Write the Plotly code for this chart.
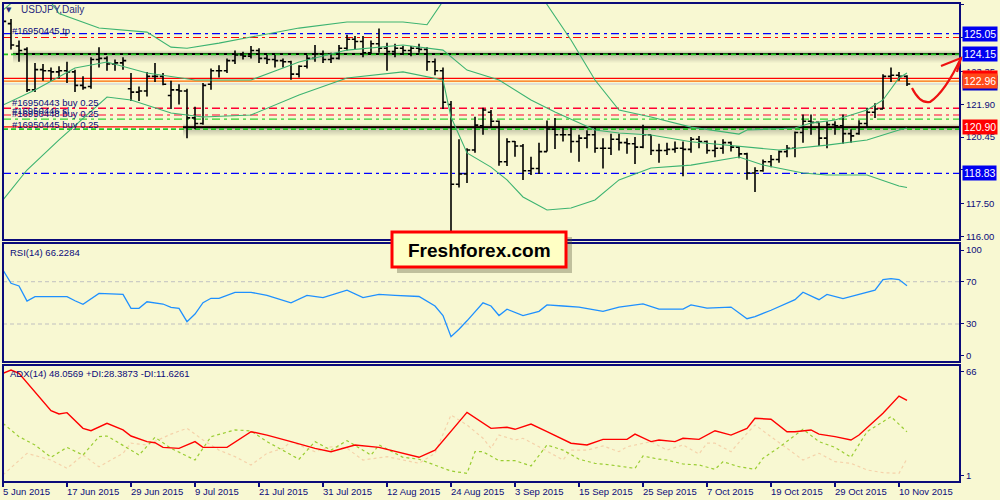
import plotly.graph_objects as go
import pandas as pd

# ---------------- data ----------------
dates = pd.bdate_range("2015-06-05", "2015-11-11")   # 114 daily bars
tick_labels = ["5 Jun 2015", "17 Jun 2015", "29 Jun 2015", "9 Jul 2015", "21 Jul 2015",
               "31 Jul 2015", "12 Aug 2015", "24 Aug 2015", "3 Sep 2015", "15 Sep 2015",
               "25 Sep 2015", "7 Oct 2015", "19 Oct 2015", "29 Oct 2015", "10 Nov 2015"]

opens = [124.55, 125.50, 124.50, 124.35, 122.55, 123.45, 123.40, 123.35, 123.40, 123.35,
         122.75, 122.70, 123.90, 123.95, 123.70, 123.75, 122.60, 122.45, 122.50, 123.15,
         123.15, 122.30, 122.55, 122.50, 121.30, 121.05, 122.80, 123.40, 123.40, 123.85,
         124.10, 124.05, 124.30, 123.95, 123.90, 123.85, 123.80, 123.25, 123.60, 123.95,
         124.15, 123.90, 123.95, 124.40, 124.80, 124.70, 124.20, 124.60, 124.40, 124.25,
         124.40, 124.30, 124.40, 124.35, 123.80, 123.40, 121.90, 118.35, 118.80, 119.87,
         120.95, 121.55, 121.15, 119.35, 120.25, 120.05, 118.95, 119.05, 119.80, 120.80,
         120.55, 120.55, 120.25, 120.40, 120.55, 119.95, 119.95, 120.35, 120.20, 120.15,
         120.00, 120.55, 119.85, 119.85, 119.90, 119.95, 119.90, 120.35, 120.25, 119.85,
         119.95, 120.20, 120.00, 119.70, 118.85, 118.95, 119.35, 119.45, 119.80, 119.95,
         120.65, 121.15, 121.10, 120.40, 121.00, 120.95, 120.60, 120.60, 121.05, 121.55,
         121.70, 123.15, 123.20, 123.15]
highs = [125.86, 125.70, 124.75, 124.45, 123.75, 123.70, 123.55, 123.60, 123.80, 123.45,
         123.15, 124.00, 124.45, 124.05, 123.90, 124.00, 123.30, 122.70, 123.35, 123.75,
         123.30, 122.95, 122.80, 122.60, 121.80, 122.85, 123.50, 123.65, 123.95, 124.30,
         124.25, 124.50, 124.40, 124.10, 124.10, 123.95, 123.85, 123.65, 124.10, 124.55,
         124.30, 124.20, 124.55, 125.00, 124.95, 124.95, 124.75, 125.28, 124.65, 124.60,
         124.50, 124.50, 124.60, 124.45, 123.95, 123.55, 122.05, 120.35, 119.95, 121.35,
         121.75, 121.65, 121.18, 120.40, 120.27, 120.14, 119.57, 120.20, 121.18, 121.30,
         120.90, 120.85, 120.55, 120.75, 120.90, 120.40, 120.60, 120.60, 120.40, 120.45,
         121.00, 120.55, 120.15, 120.20, 120.25, 120.25, 120.45, 120.50, 120.30, 120.30,
         120.35, 120.25, 120.05, 119.75, 119.10, 119.45, 119.65, 119.85, 120.10, 120.70,
         121.45, 121.45, 121.10, 121.15, 121.15, 121.45, 120.80, 121.20, 121.75, 121.95,
         123.25, 123.55, 123.35, 123.20]
lows = [124.25, 124.35, 123.80, 122.45, 122.45, 122.95, 122.95, 123.05, 122.85, 122.45,
        122.55, 122.60, 123.55, 123.40, 123.40, 123.45, 122.05, 122.05, 122.25, 122.90,
        122.75, 121.70, 121.90, 120.40, 120.80, 121.00, 122.55, 123.10, 123.30, 123.70,
        123.90, 123.95, 123.75, 123.70, 123.55, 123.55, 123.00, 123.10, 123.50, 123.80,
        123.75, 123.75, 123.90, 124.30, 124.35, 124.00, 124.15, 124.20, 123.40, 124.00,
        124.10, 124.05, 124.20, 123.40, 123.20, 121.70, 116.15, 118.20, 118.40, 119.75,
        120.55, 120.85, 119.17, 119.16, 119.57, 118.54, 118.76, 118.80, 119.80, 119.92,
        120.25, 119.75, 119.35, 119.95, 119.75, 119.05, 119.65, 119.85, 119.70, 119.25,
        119.95, 119.65, 119.30, 119.65, 119.75, 118.70, 119.75, 119.95, 119.70, 119.55,
        119.70, 119.80, 119.50, 118.55, 118.00, 118.90, 119.10, 119.30, 119.55, 119.55,
        120.20, 120.55, 120.05, 119.95, 120.55, 120.15, 120.20, 120.55, 120.90, 121.30,
        121.70, 122.90, 122.95, 122.72]
closes = [125.60, 124.55, 124.30, 122.55, 123.45, 123.40, 123.35, 123.40, 123.35, 122.75,
          122.65, 123.90, 123.95, 123.70, 123.75, 123.85, 122.45, 122.50, 123.15, 123.15,
          122.80, 122.55, 122.50, 121.30, 121.05, 122.75, 123.40, 123.40, 123.85, 124.10,
          124.05, 124.30, 123.95, 123.90, 123.85, 123.80, 123.25, 123.60, 123.95, 124.15,
          123.90, 123.95, 124.40, 124.80, 124.70, 124.20, 124.60, 124.40, 124.25, 124.40,
          124.30, 124.40, 124.35, 123.80, 123.40, 122.00, 118.35, 118.80, 119.87, 120.98,
          121.65, 121.15, 119.35, 120.24, 120.05, 118.95, 119.05, 119.80, 120.81, 120.55,
          120.55, 120.25, 120.40, 120.55, 119.95, 119.95, 120.35, 120.20, 120.15, 120.00,
          120.55, 119.85, 119.85, 119.90, 119.95, 119.90, 120.35, 120.25, 119.85, 119.95,
          120.20, 120.00, 119.70, 118.85, 118.95, 119.35, 119.45, 119.80, 119.95, 120.65,
          121.15, 121.10, 120.40, 121.00, 120.95, 120.60, 120.50, 121.05, 121.55, 121.70,
          123.15, 123.20, 123.15, 122.81]

# Bollinger bands (bar index, price)
bb_up_idx = [0, 2, 4, 6, 7, 12, 18, 21, 23, 27, 31, 37, 43, 50, 53, 55, 58, 65, 68, 71,
             74, 76, 77, 81, 86, 92, 93, 99, 101, 104, 108, 110, 112, 113]
bb_up = [126.10, 126.70, 127.20, 126.45, 125.95, 125.30, 125.12, 124.45, 124.40, 124.63,
         124.90, 125.30, 125.57, 125.57, 125.45, 126.50, 128.50, 128.00, 126.35, 124.77,
         122.99, 122.10, 121.65, 121.34, 120.89, 120.58, 120.76, 120.85, 121.07, 121.21,
         121.65, 122.10, 123.08, 123.30]
bb_mid_idx = [0, 4, 9, 13, 18, 24, 31, 37, 43, 50, 55, 58, 62, 66, 69, 72, 74, 77, 81, 86,
              92, 97, 103, 108, 112, 113]
bb_mid = [121.87, 122.54, 123.52, 123.79, 123.30, 122.99, 122.99, 123.79, 124.32, 124.55,
          124.32, 123.43, 122.99, 122.10, 121.56, 121.07, 120.76, 120.63, 120.54, 120.24,
          120.02, 119.87, 120.09, 120.32, 120.76, 120.85]
bb_low_idx = [0, 3, 7, 13, 16, 21, 25, 31, 37, 43, 50, 55, 56, 58, 61, 63, 65, 68, 71, 74,
              77, 81, 86, 92, 95, 100, 103, 108, 112, 113]
bb_low = [117.65, 118.98, 120.32, 122.23, 122.10, 121.52, 121.34, 121.43, 122.32, 123.08,
          123.35, 122.99, 121.34, 119.74, 119.11, 118.54, 117.78, 117.20, 117.29, 117.65,
          118.54, 119.07, 119.20, 119.56, 119.20, 118.85, 118.76, 118.76, 118.27, 118.20]

# RSI(14)
rsi_idx = [0, 1, 2, 3, 4, 5, 6, 7, 8, 9, 10, 12, 14, 15, 16, 17, 18, 20, 21, 22, 23, 24,
           25, 26, 27, 29, 31, 33, 36, 38, 40, 43, 45, 47, 49, 52, 54, 55, 56, 57, 58, 59,
           60, 61, 62, 63, 65, 67, 68, 70, 72, 75, 77, 80, 82, 85, 86, 88, 91, 93, 94, 96,
           99, 100, 102, 103, 105, 107, 109, 110, 111, 112, 113]
rsi_val = [81, 68.5, 66, 51.7, 55.8, 55.8, 55.5, 55.2, 55.8, 52, 48.6, 59, 58.4, 58, 44.8,
           44.8, 51, 48.9, 45.8, 44.8, 32.2, 39.4, 50.1, 54.3, 54.3, 60, 60, 57, 50, 57, 55,
           62, 55, 58, 57, 56, 47, 38, 18, 25, 33, 42, 50, 47, 38, 44, 38, 42, 48, 47, 46,
           42, 46, 49, 44, 44, 48, 45, 46, 35, 37, 43, 53, 60, 53, 58, 54, 58, 62, 72, 73,
           72, 66.2284]

# ADX(14), +DI, -DI
adx_idx = [0, 1, 2, 4, 6, 7, 8, 10, 11, 13, 15, 16, 18, 19, 20, 22, 24, 25, 28, 31, 33, 36,
           39, 41, 44, 47, 50, 52, 54, 56, 58, 61, 63, 64, 66, 68, 71, 73, 75, 78, 79, 81,
           82, 84, 85, 87, 89, 91, 93, 94, 96, 98, 99, 101, 102, 104, 106, 107, 110, 112, 113]
adx_val = [65, 67, 65, 53.5, 41.6, 39.6, 40.4, 30.6, 29.1, 33.7, 29.6, 25.8, 22.3, 21.6,
           18.7, 18.1, 22.3, 18.7, 18.7, 28.5, 26.4, 22.3, 18.1, 16, 20.2, 18.7, 15, 12.5, 17,
           28.5, 40.6, 30.6, 31.3, 30, 33.3, 28.5, 21.3, 20.2, 23.7, 23.7, 27, 22.3, 23.3,
           22.3, 24.4, 23.7, 29.1, 26.4, 30.6, 36.9, 36.3, 28.5, 28.5, 29.6, 27, 25.4, 23.3,
           26.4, 40, 50.8, 48.0569]
pdi_idx = [0, 2, 4, 6, 8, 10, 12, 13, 16, 17, 19, 21, 24, 26, 29, 31, 33, 37, 39, 41, 43,
           46, 47, 50, 52, 55, 56, 58, 59, 60, 62, 64, 66, 68, 70, 72, 74, 76, 79, 80, 82,
           83, 85, 87, 89, 90, 92, 94, 95, 97, 100, 102, 104, 106, 108, 111, 113]
pdi_val = [33.7, 25.4, 20.2, 12.5, 18.7, 13.9, 25.4, 25.8, 17, 13.9, 25, 18.1, 10.8, 25.4,
           29.6, 29, 22.3, 11.3, 22.3, 17, 22.9, 13.9, 20.2, 12.5, 11.3, 5.6, 3.9, 2.5, 16,
           16, 10.4, 10.4, 7.1, 20.2, 17, 11.3, 8.75, 7.7, 5.6, 13.3, 11.3, 10.8, 8.3, 7.7, 5,
           9.75, 6.6, 5, 11.9, 18.7, 30, 22.3, 18.7, 12.5, 28.5, 37.9, 28.3873]
mdi_idx = [0, 3, 6, 8, 10, 12, 15, 16, 18, 21, 23, 25, 27, 29, 31, 33, 35, 36, 39, 41, 43,
           45, 48, 50, 52, 54, 56, 58, 60, 61, 62, 64, 65, 67, 70, 71, 73, 75, 77, 78, 81,
           83, 85, 87, 88, 89, 91, 93, 94, 96, 98, 100, 102, 104, 106, 108, 110, 112, 113]
mdi_val = [1.5, 15, 10.8, 5.6, 13.9, 6.6, 15, 21.3, 20.2, 27, 30.6, 23.3, 17, 12.9, 7.7, 15,
           18.1, 22.3, 16, 19.1, 18.1, 10.8, 12.9, 10.8, 8.75, 15, 38.9, 32.7, 24.4, 18.1,
           26.4, 23.3, 24.4, 19.1, 10.8, 17, 17, 19.6, 16, 19.1, 22.3, 17, 20.2, 14.6, 21.3,
           21.3, 16, 27.5, 32.7, 25.4, 18.1, 10.8, 15, 9.75, 8.75, 4.6, 2.9, 2.5, 11.6261]

# price-axis labels
price_ticks = [126.35, 124.90, 123.35, 121.90, 120.45, 119.00, 117.50, 116.00]
rsi_ticks = [0, 30, 70, 100]
adx_ticks = [1, 66]

# ---------------- layout helpers (pixel -> paper) ----------------
L, R, T, B = 3, 960, 3, 482
def pxx(x):
    return (x - L) / (R - L)
def pyy(y):
    return (B - y) / (B - T)

NAVY = "#0b0b7a"
BG = "#f8f8d2"
FONT = "Liberation Sans"
n = len(closes)
xs = list(range(n))

fig = go.Figure()
fig.add_trace(go.Ohlc(x=xs, open=opens, high=highs, low=lows, close=closes,
                      increasing=dict(line=dict(color="black", width=1.6)),
                      decreasing=dict(line=dict(color="black", width=1.6)),
                      tickwidth=0.4, hoverinfo="skip", showlegend=False,
                      xaxis="x", yaxis="y"))
for ix, vals in [(bb_up_idx, bb_up), (bb_mid_idx, bb_mid), (bb_low_idx, bb_low)]:
    fig.add_trace(go.Scatter(x=ix, y=vals, mode="lines", line=dict(color="#3cb371", width=1.1),
                             hoverinfo="skip", showlegend=False, xaxis="x", yaxis="y"))
fig.add_trace(go.Scatter(x=rsi_idx, y=rsi_val, mode="lines", line=dict(color="#1e90ff", width=1.3),
                         hoverinfo="skip", showlegend=False, xaxis="x", yaxis="y2"))
fig.add_trace(go.Scatter(x=mdi_idx, y=mdi_val, mode="lines",
                         line=dict(color="#f5d2aa", width=1.2, dash="3px,3px"),
                         hoverinfo="skip", showlegend=False, xaxis="x", yaxis="y3"))
fig.add_trace(go.Scatter(x=pdi_idx, y=pdi_val, mode="lines",
                         line=dict(color="#9acd32", width=1.2, dash="3px,3px"),
                         hoverinfo="skip", showlegend=False, xaxis="x", yaxis="y3"))
fig.add_trace(go.Scatter(x=adx_idx, y=adx_val, mode="lines", line=dict(color="#ff0000", width=1.4),
                         hoverinfo="skip", showlegend=False, xaxis="x", yaxis="y3"))

shapes = []
def hline(price, color, width=1, dash=None, x0=0.0):
    shapes.append(dict(type="line", xref="paper", yref="y", x0=x0, x1=1, y0=price, y1=price,
                       line=dict(color=color, width=width, dash=dash), layer="below"))

def shadow(price, x0):
    # soft grey shadow around the black lines
    y = 4.5 + (126.35 - price) * 22.46
    for k in range(1, 9):
        shapes.append(dict(type="rect", xref="paper", yref="paper", x0=x0, x1=1,
                           y0=pyy(y + k * 1.1), y1=pyy(y - k * 0.45),
                           fillcolor="rgba(60,60,60,0.045)", line=dict(width=0), layer="below"))

DD = "8px,4px,3px,4px"
shadow(124.15, pxx(13))
shadow(120.88, pxx(183))
hline(125.05, "#0000ff", 1.3, DD)
hline(124.88, "#ff0000", 1.1, DD)
hline(123.06, "#ff0000", 1.3)
hline(122.94, "#ff6a00", 1.3)
hline(122.81, "#d8d8d8", 1.3)
hline(121.73, "#ff0033", 1.3, DD)
hline(121.43, "#ff0033", 1.2, DD)
hline(121.25, "#32cd32", 1.2, DD)
hline(120.90, "#ff0000", 1.4)
hline(118.83, "#0000ff", 1.3, DD)
hline(124.15, "black", 2.0, None, pxx(13))
hline(124.13, "#22c322", 1.6, "5px,3px")
hline(120.88, "black", 2.0, None, pxx(183))
hline(120.80, "#22c322", 1.6, "5px,3px")

# RSI levels
for lv in (30, 70):
    shapes.append(dict(type="line", xref="paper", yref="y2", x0=0, x1=1, y0=lv, y1=lv,
                       line=dict(color="#c0c0c0", width=1, dash="4px,3px"), layer="below"))

# panel borders
for (ytop, ybot) in [(T, 240), (243, 362), (365, B)]:
    shapes.append(dict(type="rect", xref="paper", yref="paper", x0=0, x1=1,
                       y0=pyy(ybot), y1=pyy(ytop), line=dict(color=NAVY, width=2), layer="above"))

# watermark box
shapes.append(dict(type="rect", xref="paper", yref="paper", x0=pxx(397), x1=pxx(572),
                   y0=pyy(273), y1=pyy(237), fillcolor="rgba(90,90,60,0.35)",
                   line=dict(width=0), layer="above"))
shapes.append(dict(type="rect", xref="paper", yref="paper", x0=pxx(392), x1=pxx(566),
                   y0=pyy(267), y1=pyy(232), fillcolor="#ffffc4",
                   line=dict(color="#ff0000", width=3), layer="above"))

# hand-drawn red arrow
def P(x, y):
    return f"{pxx(x):.5f},{pyy(y):.5f}"
shapes.append(dict(type="path", xref="paper", yref="paper", layer="above",
                   path=f"M {P(912, 88)} Q {P(920, 104)} {P(930, 102)} Q {P(945, 92)} {P(961, 58)}",
                   line=dict(color="#ee1111", width=2.2)))
shapes.append(dict(type="path", xref="paper", yref="paper", layer="above",
                   path=f"M {P(941, 66)} L {P(961, 58)} L {P(957, 72)}",
                   line=dict(color="#ee1111", width=2.2)))

annotations = []
def txt(x, y, s, size=9.5, color=NAVY, xanchor="left"):
    annotations.append(dict(xref="paper", yref="paper", x=pxx(x), y=pyy(y), text=s,
                            showarrow=False, xanchor=xanchor, yanchor="middle",
                            font=dict(family=FONT, size=size, color=color)))

txt(19, 10, "USDJPY,Daily", 10, "#2a2a80")
annotations.append(dict(xref="paper", yref="paper", x=pxx(9), y=pyy(10), text="▼",
                        showarrow=False, xanchor="center", yanchor="middle",
                        font=dict(family="DejaVu Sans", size=7, color="#2a2a80")))
txt(10, 31, "#16950445 tp")
txt(10, 102, "#16950443 buy 0.25")
txt(10, 110, "#16950446 sl")
txt(10, 113, "#16950448 buy 0.25")
txt(10, 125, "#16950445 buy 0.25")
txt(8, 252, "RSI(14) 66.2284")
txt(8, 373, "ADX(14) 48.0569 +DI:28.3873 -DI:11.6261")

# right-side price boxes
def box(price, s, bg):
    annotations.append(dict(xref="paper", yref="y", x=1, y=price, xshift=2, text=s,
                            showarrow=False, xanchor="left", yanchor="middle", bgcolor=bg,
                            borderpad=1, font=dict(family=FONT, size=10.5, color="white")))
box(125.05, "125.05", "#0000f0")
box(124.15, "124.15", "#0000f0")
box(123.06, "123.06", "#ff0000")
box(122.86, "122.81", "#0000c8")
box(122.96, "122.96", "#ff4a1a")
box(120.90, "120.90", "#ff0000")
box(118.83, "118.83", "#0000f0")

# date labels (left aligned at their ticks)
tick_idx = [i for i, d in enumerate(dates) if f"{d.day} {d.strftime('%b %Y')}" in tick_labels]
for i, lab in zip(tick_idx, tick_labels):
    annotations.append(dict(xref="x", yref="paper", x=i, y=pyy(491), text=lab, showarrow=False,
                            xanchor="left", yanchor="middle", xshift=-2,
                            font=dict(family=FONT, size=9.5, color=NAVY)))

annotations.append(dict(xref="paper", yref="paper", x=pxx(479), y=pyy(250), text="<b>Freshforex.com</b>",
                        showarrow=False, xanchor="center", yanchor="middle",
                        font=dict(family="Liberation Sans", size=19, color="black")))

# price axis range from the pixel geometry: 126.35 at y=4.5, 22.46 px per yen
p_top = 126.35 + (4.5 - T) / 22.46
p_bot = 126.35 - (240 - 4.5) / 22.46
rsi_top = 100 + (250 - 243) / 1.057
rsi_bot = 0 - (362 - 355.7) / 1.057
adx_top = 66 + (371.7 - 365) / 1.6
adx_bot = 1 - (B - 475.7) / 1.6

axis_font = dict(family=FONT, size=9.5, color=NAVY)
fig.update_layout(
    width=1000, height=500, margin=dict(l=L, r=1000 - R, t=T, b=500 - B),
    paper_bgcolor=BG, plot_bgcolor=BG, showlegend=False,
    xaxis=dict(range=[0, (R - L) / 8], anchor="y3", showgrid=False, zeroline=False,
               tickvals=tick_idx, ticks="outside", ticklen=4, tickcolor=NAVY, tickwidth=1.5,
               showticklabels=False, rangeslider=dict(visible=False), fixedrange=True),
    yaxis=dict(domain=[pyy(240), 1], range=[p_bot, p_top], side="right", showgrid=False,
               zeroline=False, tickvals=price_ticks, ticktext=[f"{v:.2f}" for v in price_ticks],
               ticks="outside", ticklen=3, tickcolor=NAVY, tickfont=axis_font),
    yaxis2=dict(domain=[pyy(362), pyy(243)], range=[rsi_bot, rsi_top], side="right",
                showgrid=False, zeroline=False, tickvals=rsi_ticks, ticks="outside", ticklen=3,
                tickcolor=NAVY, tickfont=axis_font),
    yaxis3=dict(domain=[0, pyy(365)], range=[adx_bot, adx_top], side="right", showgrid=False,
                zeroline=False, tickvals=adx_ticks, ticks="outside", ticklen=3, tickcolor=NAVY,
                tickfont=axis_font),
    shapes=shapes, annotations=annotations,
)
fig.write_html("out.html", config={"displayModeBar": False},
               post_script="document.body.style.margin='0';document.body.style.background='%s';" % BG)
